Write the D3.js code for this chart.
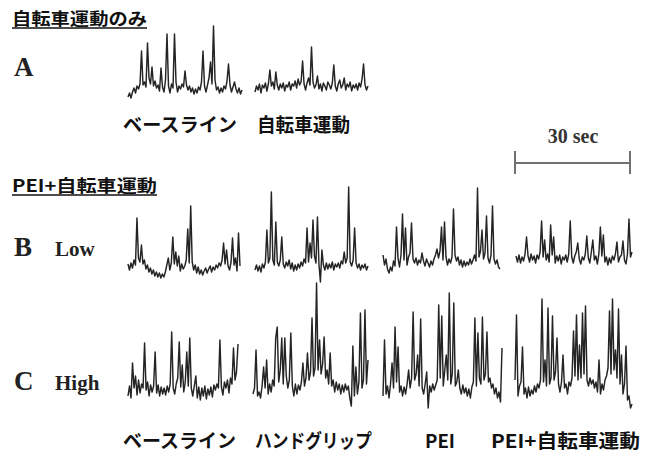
<!DOCTYPE html>
<html lang="ja">
<head>
<meta charset="UTF-8">
<title>MSNA traces</title>
<script src="https://cdn.jsdelivr.net/npm/d3@7/dist/d3.min.js"></script>
<style>
	body { margin: 0; background: #fff; }
	svg { display: block; }
	.jp { font-family: "Noto Sans CJK JP", "Noto Sans", sans-serif; font-weight: 700; fill: #111; }
	.serif { font-family: "Liberation Serif", "DejaVu Serif", serif; font-weight: 700; fill: #222; }
</style>
</head>
<body>
<div id="container"></div>
<script>

// burst amplitude above each trace's baseline (px) left to right
var traceA1 = [-7,-3,-8,-2,2,-3,4,1,6,39,5,8,3,47,12,6,23,4,9,2,5,-1,22,3,-2,10,56,4,-3,6,2,56,8,-2,4,1,6,3,19,5,0,4,-2,2,-4,1,-3,3,0,8,39,4,-2,5,12,28,6,64,10,0,3,-3,2,-2,4,1,9,26,5,-2,3,8,1,-3,2,-4,0];
var traceA2 = [-4,2,-2,4,-5,3,0,5,-3,4,18,2,6,-1,16,3,-2,4,0,5,-3,3,1,6,-2,4,2,7,0,9,3,6,27,4,-2,5,10,3,41,6,0,3,12,-1,4,-3,5,2,-2,6,3,-1,5,23,2,-3,4,8,0,3,10,-2,4,1,6,-3,3,0,4,-2,5,1,9,24,3,-2,2];

var traceB1 = [4,-2,5,0,8,3,50,10,6,23,4,8,-1,3,-4,0,-6,-2,-8,-4,-9,-5,-10,-6,-9,-4,3,10,-2,5,31,4,16,2,12,-3,4,-1,2,8,39,5,62,6,-2,3,-5,1,-6,-2,-7,-3,0,-5,-1,2,-4,1,-2,3,0,5,2,8,25,4,18,2,-2,6,30,3,10,-3,35,2];
var traceB2 = [-2,3,-3,2,-4,4,0,6,38,5,10,76,8,3,46,6,2,8,31,4,0,6,2,8,-1,5,-3,3,-2,4,0,6,2,9,5,40,6,25,10,48,12,5,51,4,-14,18,3,-2,5,-1,4,0,6,-2,4,1,5,0,7,4,16,5,10,81,6,2,8,40,5,0,4,-2,3,0,4,-2,2];
var traceB3 = [8,-2,4,-6,-10,-4,-8,2,-3,36,5,-4,8,49,3,35,-2,6,10,40,4,0,5,-2,3,0,10,2,-3,4,0,-4,2,-2,4,8,14,5,12,36,3,41,6,-2,4,0,6,54,8,2,6,-2,3,-4,2,-3,1,-2,4,-1,3,8,2,75,6,12,33,4,10,47,5,0,8,57,4,-1,3,-4,-6];
var traceB4 = [4,-2,5,-3,3,-1,6,23,4,-2,6,0,4,-3,5,1,8,39,3,20,0,6,-2,35,5,23,-3,4,-1,5,-4,3,0,5,-2,6,39,3,-3,4,8,17,1,-4,3,0,6,24,2,-3,8,20,0,4,-4,6,33,4,25,-2,3,-5,2,-3,4,0,6,18,-2,3,5,19,0,-4,6,41,3,8];

var traceC1 = [-6,4,-8,27,2,14,-5,10,-3,6,2,47,0,8,-6,5,-2,4,38,-3,5,-6,3,-4,2,-5,4,-2,6,58,2,-4,6,12,48,3,25,-2,8,38,4,52,2,-6,4,14,-8,3,-10,2,-6,4,-9,1,-5,3,-7,5,0,6,2,50,3,-5,8,2,10,-3,12,6,42,10,18,46];
var traceC2 = [-4,2,40,-6,-2,-8,4,23,2,30,-4,6,-2,10,4,52,63,8,20,52,6,52,14,2,10,57,4,-6,6,-4,5,0,8,27,4,12,37,10,18,72,14,22,107,20,50,16,26,53,12,20,6,37,4,10,-2,8,0,6,-4,5,-2,6,0,4,-8,-16,44,-6,23,-4,8,77,2,10,80,6,30];
var traceC3 = [-6,50,-4,4,-8,6,27,2,63,8,43,-2,4,-6,3,-4,6,20,2,12,78,10,16,35,4,71,2,-4,6,18,-18,4,-2,6,0,5,10,85,12,74,4,20,35,10,97,6,16,87,4,8,20,2,-4,5,-3,2,-6,1,-8,3,8,72,4,57,12,6,73,10,16,58,8,12,2,6,-4,2,-8,-2,-12,42];
var traceC4 = [10,75,-6,4,8,43,-4,2,-8,3,-6,0,-4,4,-2,6,2,10,91,8,30,4,82,6,12,74,10,18,52,6,-2,8,35,2,6,-4,8,4,12,59,14,75,10,45,12,77,16,84,10,4,12,6,10,2,8,-2,30,-4,6,0,10,14,22,79,16,91,20,40,12,81,6,35,-4,6,44,-10,-6,-18,-14];

var sectionTitles = ["自転車運動のみ", "PEI+自転車運動"];
var rowLetters = ["A", "B", "C"];
var rowLevels = ["", "Low", "High"];
var labelsA = ["ベースライン", "自転車運動"];
var labelsBC = ["ベースライン", "ハンドグリップ", "PEI", "PEI+自転車運動"];
var scaleBarLabel = "30 sec";

var width = 653, height = 456;

var svg = d3.select("#container").append("svg")
	.attr("width", width)
	.attr("height", height);

// where each trace sits on the page
var panels = [
	{ data: traceA1, x0: 128, x1: 242, base: 90 },
	{ data: traceA2, x0: 255, x1: 368, base: 88 },
	{ data: traceB1, x0: 128, x1: 240, base: 268 },
	{ data: traceB2, x0: 255, x1: 368, base: 268 },
	{ data: traceB3, x0: 383, x1: 500, base: 263 },
	{ data: traceB4, x0: 516, x1: 632, base: 260 },
	{ data: traceC1, x0: 128, x1: 238, base: 390 },
	{ data: traceC2, x0: 253, x1: 368, base: 390 },
	{ data: traceC3, x0: 383, x1: 502, base: 390 },
	{ data: traceC4, x0: 515, x1: 632, base: 390 }
];

panels.forEach(function(p) {
	var x = d3.scaleLinear()
		.domain([0, p.data.length - 1])
		.range([p.x0, p.x1]);
	var y = d3.scaleLinear()
		.domain([0, 100])
		.range([p.base, p.base - 100]);
	var line = d3.line()
		.x(function(d, i) { return x(i); })
		.y(function(d) { return y(d); });
	svg.append("path")
		.datum(p.data)
		.attr("d", line)
		.attr("fill", "none")
		.attr("stroke", "#242424")
		.attr("stroke-width", 1.45)
		.attr("stroke-linejoin", "round");
});

// section headers, underlined
var headers = [
	{ text: sectionTitles[0], x: 12, y: 25, w: 135 },
	{ text: sectionTitles[1], x: 12, y: 192, w: 145 }
];
headers.forEach(function(h) {
	svg.append("text")
		.attr("class", "jp")
		.attr("x", h.x)
		.attr("y", h.y)
		.attr("font-size", 17)
		.attr("textLength", h.w)
		.attr("lengthAdjust", "spacingAndGlyphs")
		.text(h.text);
	svg.append("line")
		.attr("x1", h.x).attr("x2", h.x + h.w)
		.attr("y1", h.y + 3).attr("y2", h.y + 3)
		.attr("stroke", "#111")
		.attr("stroke-width", 1.6);
});

// row letters and level names
var rowY = [76, 256, 390];
rowLetters.forEach(function(l, i) {
	svg.append("text")
		.attr("class", "serif")
		.attr("x", 14)
		.attr("y", rowY[i])
		.attr("font-size", 27)
		.text(l);
	if (rowLevels[i]) {
		svg.append("text")
			.attr("class", "serif")
			.attr("x", 55)
			.attr("y", rowY[i])
			.attr("font-size", 21)
			.text(rowLevels[i]);
	}
});

// condition labels
var posA = [{ x: 123, w: 114 }, { x: 257, w: 93 }];
labelsA.forEach(function(t, i) {
	svg.append("text")
		.attr("class", "jp")
		.attr("x", posA[i].x)
		.attr("y", 132)
		.attr("font-size", 19)
		.attr("textLength", posA[i].w)
		.attr("lengthAdjust", "spacingAndGlyphs")
		.text(t);
});

var posBC = [{ x: 123, w: 113 }, { x: 255, w: 117 }, { x: 425, w: 30 }, { x: 491, w: 149 }];
labelsBC.forEach(function(t, i) {
	svg.append("text")
		.attr("class", "jp")
		.attr("x", posBC[i].x)
		.attr("y", 448)
		.attr("font-size", 19)
		.attr("textLength", posBC[i].w)
		.attr("lengthAdjust", "spacingAndGlyphs")
		.text(t);
});

// 30 s scale bar
var bar = svg.append("g").attr("stroke", "#707070").attr("stroke-width", 2);
bar.append("line").attr("x1", 514).attr("x2", 631).attr("y1", 163).attr("y2", 163);
bar.append("line").attr("x1", 515).attr("x2", 515).attr("y1", 151).attr("y2", 174);
bar.append("line").attr("x1", 630).attr("x2", 630).attr("y1", 151).attr("y2", 174);

svg.append("text")
	.attr("class", "serif")
	.attr("x", 573)
	.attr("y", 143)
	.attr("text-anchor", "middle")
	.attr("font-size", 20)
	.style("fill", "#333")
	.text(scaleBarLabel);

</script>
</body>
</html>
